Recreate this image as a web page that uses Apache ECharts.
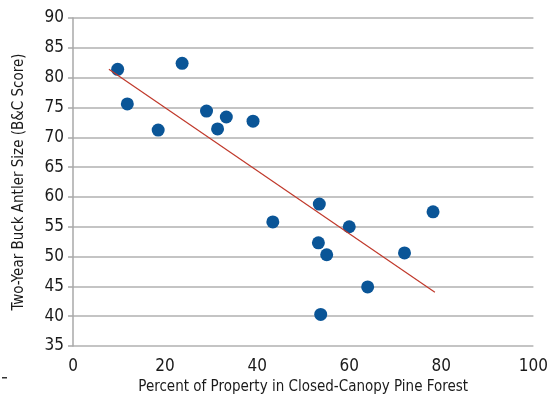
<!DOCTYPE html>
<html><head><meta charset="utf-8">
<script src="https://cdn.jsdelivr.net/npm/echarts@6/dist/echarts.min.js"></script>
<style>html,body{margin:0;padding:0;background:#fff}#c{width:551px;height:403px}</style>
</head><body><div id="c"></div>
<script>
const pctPine = [9.7, 11.8, 18.5, 23.7, 29.0, 31.4, 33.3, 39.1, 43.4, 53.5, 60.0, 53.3, 55.1, 72.0, 64.0, 53.8, 78.2];
const antlerScore = [81.4, 75.6, 71.2, 82.4, 74.4, 71.4, 73.4, 72.7, 55.8, 58.8, 55.0, 52.3, 50.3, 50.6, 44.9, 40.3, 57.5];
const trendX = [7.8, 78.6];
const trendY = [81.4, 44.0];
const xTitle = 'Percent of Property in Closed-Canopy Pine Forest';
const yTitle = 'Two-Year Buck Antler Size (B&C Score)';

const FONT = '"DejaVu Sans Condensed", "Liberation Sans Narrow", sans-serif';
const chart = echarts.init(document.getElementById('c'), null, {renderer: 'canvas'});
chart.setOption({
  animation: false,
  grid: {left: 73, right: 13, top: 18, bottom: 57},
  xAxis: {
    type: 'value', min: 0, max: 100, interval: 20,
    name: xTitle, nameLocation: 'middle', nameGap: 33,
    nameTextStyle: {fontFamily: FONT, fontSize: 15, color: '#1a1a1a'},
    axisLine: {show: false}, axisTick: {show: false},
    axisLabel: {fontFamily: FONT, fontSize: 17, color: '#1a1a1a', margin: 12},
    splitLine: {show: false}
  },
  yAxis: {
    type: 'value', min: 35, max: 90, interval: 5,
    name: yTitle, nameLocation: 'middle', nameGap: 46,
    nameTextStyle: {fontFamily: FONT, fontSize: 15, color: '#1a1a1a'},
    axisLine: {show: true, lineStyle: {color: '#a8a8a8', width: 1.5}},
    axisTick: {show: true, length: 5, lineStyle: {color: '#a8a8a8', width: 1.5}},
    axisLabel: {fontFamily: FONT, fontSize: 17, color: '#1a1a1a', margin: 9},
    splitLine: {show: true, lineStyle: {color: '#b0b0b0', width: 1.5}}
  },
  series: [
    {
      type: 'scatter', symbolSize: 13,
      itemStyle: {color: '#0a5597', opacity: 1},
      data: pctPine.map((x, i) => [x, antlerScore[i]]),
      z: 3
    },
    {
      type: 'line', symbol: 'none',
      lineStyle: {color: '#c0392b', width: 1.2},
      data: trendX.map((x, i) => [x, trendY[i]]),
      z: 4
    }
  ],
  graphic: [{type: 'rect', shape: {x: 2, y: 377, width: 5, height: 1.5}, style: {fill: '#333'}}]
});
</script></body></html>
